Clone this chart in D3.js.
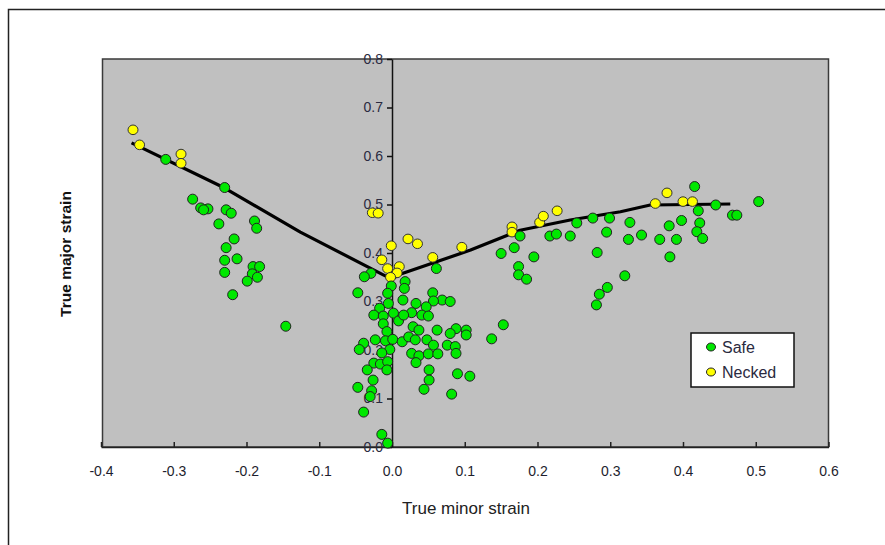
<!DOCTYPE html>
<html>
<head>
<meta charset="utf-8">
<script src="https://cdn.jsdelivr.net/npm/d3@7/dist/d3.min.js"></script>
<style>
  html, body { margin: 0; padding: 0; background: #fff; }
  svg { display: block; font-family: "Liberation Sans", Arial, sans-serif; }
</style>
</head>
<body>
<svg id="chart" width="885" height="545"></svg>
<script>
// ---- data ----
const xTicks = [-0.4, -0.3, -0.2, -0.1, 0.0, 0.1, 0.2, 0.3, 0.4, 0.5, 0.6];
const xTickLabels = ["-0.4", "-0.3", "-0.2", "-0.1", "0.0", "0.1", "0.2", "0.3", "0.4", "0.5", "0.6"];
const yTicks = [0.0, 0.1, 0.2, 0.3, 0.4, 0.5, 0.6, 0.7, 0.8];
const yTickLabels = ["0.0", "0.1", "0.2", "0.3", "0.4", "0.5", "0.6", "0.7", "0.8"];

const seriesNames = ["Safe", "Necked"];

const safeX = [
  -0.311, -0.230, -0.274, -0.263, -0.253, -0.259, -0.228, -0.221, -0.238, -0.189,
  -0.186, -0.217, -0.228, -0.230, -0.213, -0.230, -0.191, -0.182, -0.192, -0.185,
  -0.199, -0.219, -0.146,
  0.061, 0.150, -0.029, -0.038, -0.001, 0.018, 0.017, -0.047, -0.006, 0.015, 0.056,
  0.069, 0.080, 0.057, 0.033, 0.047, -0.005, -0.017, -0.025, 0.002, 0.027,
  0.041, 0.050, -0.012, 0.009, 0.016, -0.012, 0.029, 0.037, 0.062, 0.088,
  0.102, 0.102, 0.080, 0.153, 0.137, -0.007, -0.023, -0.009, 0.001, 0.014,
  0.023, 0.032, 0.048, 0.057, 0.076, 0.087, -0.039, -0.045, -0.003, -0.014,
  0.088, 0.027, 0.037, 0.050, 0.063, 0.033, -0.025, -0.016, -0.006, -0.034,
  -0.007, 0.051, 0.090, 0.107, -0.026, 0.051, -0.047, -0.028, 0.044, 0.082,
  -0.030, -0.039, -0.014, -0.006,
  0.176, 0.168, 0.195, 0.174, 0.174, 0.185, 0.217, 0.226, 0.245, 0.254,
  0.276, 0.299, 0.327, 0.295, 0.325, 0.343, 0.368, 0.381, 0.382, 0.282,
  0.320, 0.296, 0.285, 0.281, 0.416, 0.445, 0.421, 0.398, 0.423, 0.419,
  0.427, 0.391, 0.468, 0.474, 0.504
];
const safeY = [
  0.593, 0.535, 0.511, 0.493, 0.491, 0.489, 0.489, 0.482, 0.460, 0.466,
  0.451, 0.429, 0.411, 0.385, 0.388, 0.360, 0.372, 0.372, 0.357, 0.350,
  0.342, 0.314, 0.249,
  0.368, 0.399, 0.358, 0.351, 0.332, 0.341, 0.327, 0.318, 0.317, 0.303, 0.318,
  0.303, 0.300, 0.301, 0.296, 0.289, 0.296, 0.286, 0.272, 0.276, 0.277,
  0.272, 0.270, 0.270, 0.260, 0.272, 0.254, 0.248, 0.241, 0.241, 0.244,
  0.241, 0.231, 0.234, 0.252, 0.223, 0.238, 0.221, 0.219, 0.222, 0.217,
  0.227, 0.221, 0.221, 0.210, 0.210, 0.207, 0.214, 0.201, 0.201, 0.194,
  0.193, 0.193, 0.188, 0.192, 0.192, 0.174, 0.173, 0.171, 0.176, 0.159,
  0.159, 0.159, 0.151, 0.146, 0.138, 0.138, 0.123, 0.116, 0.119, 0.109,
  0.104, 0.072, 0.026, 0.008,
  0.435, 0.411, 0.392, 0.372, 0.355, 0.346, 0.435, 0.439, 0.435, 0.462,
  0.472, 0.472, 0.463, 0.443, 0.428, 0.437, 0.428, 0.456, 0.392, 0.401,
  0.353, 0.329, 0.315, 0.293, 0.537, 0.499, 0.487, 0.467, 0.462, 0.444,
  0.430, 0.428, 0.478, 0.478, 0.506
];

const neckedX = [
  -0.356, -0.347, -0.290, -0.290, -0.027, -0.019, -0.001, 0.022, 0.035, 0.096,
  -0.014, -0.006, 0.010, 0.007, -0.002, 0.056, 0.165, 0.165, 0.203, 0.208,
  0.227, 0.362, 0.378, 0.400, 0.413
];
const neckedY = [
  0.654, 0.623, 0.604, 0.585, 0.483, 0.482, 0.415, 0.429, 0.419, 0.412,
  0.386, 0.368, 0.372, 0.359, 0.350, 0.391, 0.454, 0.443, 0.463, 0.476,
  0.487, 0.502, 0.524, 0.506, 0.506
];

// forming limit curve
const curveX = [-0.358, -0.230, -0.126, -0.012, 0.000, 0.009, 0.108, 0.176, 0.245, 0.314, 0.355, 0.465];
const curveY = [0.627, 0.534, 0.443, 0.355, 0.346, 0.355, 0.406, 0.447, 0.468, 0.485, 0.499, 0.501];

// ---- drawing ----
const svg = d3.select("#chart");

// outer frame
svg.append("path")
  .attr("d", "M8.5,545 L8.5,9.5 L885,9.5")
  .attr("fill", "none").attr("stroke", "#222").attr("stroke-width", 1.5);

const x = d3.scaleLinear().domain([-0.4, 0.6]).range([101, 828.5]);
const y = d3.scaleLinear().domain([0, 0.8]).range([447, 59]);

// plot area
svg.append("rect")
  .attr("x", x(-0.4) + 1.5).attr("y", y(0.8))
  .attr("width", x(0.6) - x(-0.4) - 1.5).attr("height", y(0) - y(0.8))
  .attr("fill", "#c0c0c0").attr("stroke", "#3a3a3a").attr("stroke-width", 1.5);

// x axis (bottom, ticks inward)
const xAxis = svg.append("g")
  .attr("transform", `translate(0,${y(0)})`)
  .call(d3.axisBottom(x).tickValues(xTicks)
    .tickFormat((d, i) => xTickLabels[i])
    .tickSizeInner(-5).tickSizeOuter(0).tickPadding(19));
xAxis.select(".domain").attr("stroke", "#222").attr("stroke-width", 1.5);
xAxis.selectAll(".tick line").attr("stroke", "#222").attr("stroke-width", 1.5);
xAxis.selectAll(".tick text").attr("font-size", 14).attr("fill", "#1e1e2e")
  .attr("font-family", "Liberation Sans, Arial, sans-serif");

// y axis at x = 0
const yAxis = svg.append("g")
  .attr("transform", `translate(${x(0)},0)`)
  .call(d3.axisLeft(y).tickValues(yTicks)
    .tickFormat((d, i) => yTickLabels[i])
    .tickSizeInner(5).tickSizeOuter(0).tickPadding(4));
yAxis.select(".domain").attr("stroke", "#111").attr("stroke-width", 1.5);
yAxis.selectAll(".tick line").attr("stroke", "#111").attr("stroke-width", 1.5);
yAxis.selectAll(".tick text").attr("font-size", 14).attr("fill", "#2a2a40")
  .attr("font-family", "Liberation Sans, Arial, sans-serif");

// curve
const curve = curveX.map((v, i) => [v, curveY[i]]);
svg.append("path")
  .datum(curve)
  .attr("d", d3.line().x(d => x(d[0])).y(d => y(d[1])))
  .attr("fill", "none").attr("stroke", "#000").attr("stroke-width", 3.2)
  .attr("stroke-linejoin", "round");

// points
const colors = { Safe: "#00e800", Necked: "#ffff00" };
const safe = safeX.map((v, i) => ({ x: v, y: safeY[i] }));
const necked = neckedX.map((v, i) => ({ x: v, y: neckedY[i] }));

svg.append("g").selectAll("ellipse").data(necked).join("ellipse")
  .attr("cx", d => x(d.x)).attr("cy", d => y(d.y))
  .attr("rx", 5).attr("ry", 4.8)
  .attr("fill", colors.Necked).attr("stroke", "#333").attr("stroke-width", 1);

svg.append("g").selectAll("ellipse").data(safe).join("ellipse")
  .attr("cx", d => x(d.x)).attr("cy", d => y(d.y))
  .attr("rx", 5).attr("ry", 5)
  .attr("fill", colors.Safe).attr("stroke", "#222").attr("stroke-width", 1);

// axis titles
svg.append("text")
  .attr("x", 466).attr("y", 514)
  .attr("text-anchor", "middle").attr("font-size", 17).attr("fill", "#222")
  .text("True minor strain");
svg.append("text")
  .attr("transform", "translate(71,254) rotate(-90)")
  .attr("text-anchor", "middle").attr("font-size", 15.5).attr("font-weight", "bold").attr("fill", "#111")
  .text("True major strain");

// legend
const lg = svg.append("g").attr("transform", "translate(691,333)");
lg.append("rect").attr("width", 103).attr("height", 54)
  .attr("fill", "#fff").attr("stroke", "#111").attr("stroke-width", 1.5);
seriesNames.forEach((name, i) => {
  const gy = 14 + i * 25;
  lg.append("ellipse").attr("cx", 20).attr("cy", gy).attr("rx", 4.5).attr("ry", 4)
    .attr("fill", colors[name]).attr("stroke", "#222").attr("stroke-width", 1);
  lg.append("text").attr("x", 31).attr("y", gy + 6)
    .attr("font-size", 16).attr("fill", "#2a2a40").text(name);
});
</script>
</body>
</html>
